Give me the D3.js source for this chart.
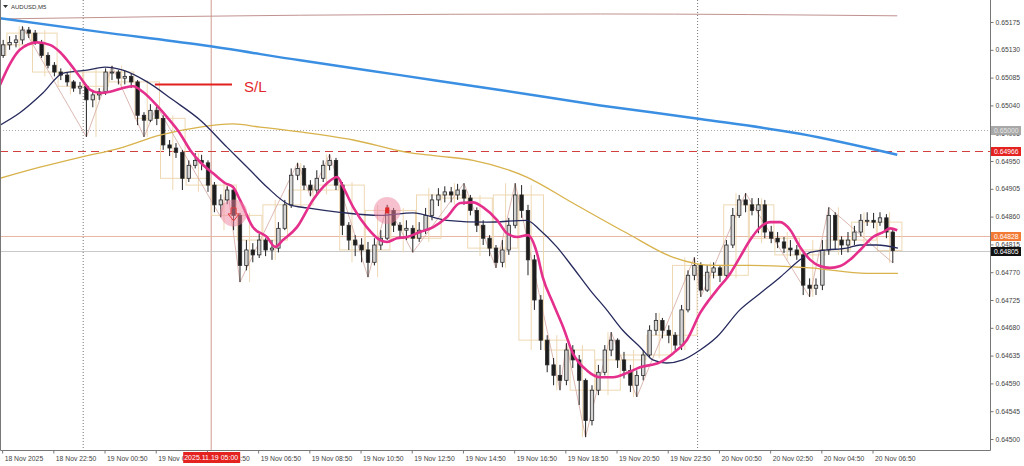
<!DOCTYPE html>
<html>
<head>
<meta charset="utf-8">
<script src="https://cdn.jsdelivr.net/npm/d3@7"></script>
<style>
  body { margin: 0; background: #fff; }
  svg { display: block; font-family: "Liberation Sans", Arial, sans-serif; }
</style>
</head>
<body>
<div id="chart"></div>
<script>
// AUDUSD M5, shown here as 15 minute candles starting 18 Nov 2025 20:45
const firstOpen = 0.65121;
const closes = [
  0.65138, 0.65142, 0.65146, 0.65162, 0.65157, 0.65142, 0.65121, 0.65105, 0.65094, 0.65089,
  0.65078, 0.65068, 0.65071, 0.65049, 0.65057, 0.65062, 0.65094, 0.65094, 0.65084, 0.65087,
  0.65078, 0.65024, 0.65016, 0.65032, 0.65019, 0.64976, 0.64971, 0.64964, 0.64922, 0.64943,
  0.64951, 0.64947, 0.64911, 0.64879, 0.64887, 0.64903, 0.64862, 0.64781, 0.64806, 0.64798,
  0.64822, 0.64806, 0.64809, 0.64841, 0.64879, 0.64927, 0.64938, 0.64911, 0.64903, 0.64922,
  0.64943, 0.64951, 0.64911, 0.64846, 0.64822, 0.64814, 0.64806, 0.64786, 0.64814, 0.64825,
  0.64870, 0.64846, 0.64838, 0.64841, 0.64825, 0.64838, 0.64862, 0.64887, 0.64895, 0.64900,
  0.64895, 0.64903, 0.64890, 0.64870, 0.64846, 0.64825, 0.64809, 0.64786, 0.64806, 0.64846,
  0.64895, 0.64870, 0.64790, 0.64725, 0.64660, 0.64620, 0.64603, 0.64595, 0.64644, 0.64628,
  0.64595, 0.64530, 0.64579, 0.64608, 0.64644, 0.64660, 0.64628, 0.64611, 0.64587, 0.64603,
  0.64636, 0.64676, 0.64692, 0.64676, 0.64668, 0.64652, 0.64709, 0.64765, 0.64781, 0.64741,
  0.64770, 0.64777, 0.64765, 0.64814, 0.64862, 0.64887, 0.64879, 0.64870, 0.64879, 0.64835,
  0.64825, 0.64819, 0.64809, 0.64806, 0.64798, 0.64749, 0.64744, 0.64749, 0.64806, 0.64862,
  0.64822, 0.64814, 0.64822, 0.64835, 0.64854, 0.64854, 0.64851, 0.64858, 0.64835, 0.64805
];
const highs = [
  0.65146, 0.65152, 0.65154, 0.65168, 0.65167, 0.65162, 0.65146, 0.65126, 0.65110, 0.65100,
  0.65094, 0.65081, 0.65078, 0.65074, 0.65065, 0.65068, 0.65100, 0.65104, 0.65097, 0.65097,
  0.65091, 0.65081, 0.65029, 0.65042, 0.65039, 0.65024, 0.64984, 0.64979, 0.64968, 0.64951,
  0.64963, 0.64960, 0.64951, 0.64916, 0.64896, 0.64909, 0.64906, 0.64866, 0.64822, 0.64817,
  0.64832, 0.64825, 0.64822, 0.64851, 0.64887, 0.64938, 0.64947, 0.64943, 0.64919, 0.64935,
  0.64951, 0.64961, 0.64955, 0.64916, 0.64851, 0.64830, 0.64825, 0.64819, 0.64825, 0.64838,
  0.64879, 0.64874, 0.64851, 0.64854, 0.64846, 0.64851, 0.64874, 0.64896, 0.64906, 0.64909,
  0.64908, 0.64913, 0.64914, 0.64895, 0.64875, 0.64854, 0.64830, 0.64814, 0.64822, 0.64858,
  0.64914, 0.64911, 0.64879, 0.64798, 0.64733, 0.64668, 0.64631, 0.64620, 0.64655, 0.64652,
  0.64636, 0.64598, 0.64587, 0.64620, 0.64652, 0.64673, 0.64663, 0.64641, 0.64620, 0.64611,
  0.64644, 0.64684, 0.64704, 0.64696, 0.64684, 0.64673, 0.64717, 0.64773, 0.64794, 0.64786,
  0.64781, 0.64786, 0.64781, 0.64822, 0.64874, 0.64895, 0.64898, 0.64890, 0.64890, 0.64887,
  0.64845, 0.64835, 0.64827, 0.64822, 0.64814, 0.64802, 0.64760, 0.64760, 0.64822, 0.64875,
  0.64867, 0.64828, 0.64835, 0.64845, 0.64864, 0.64867, 0.64866, 0.64867, 0.64864, 0.64841
];
const lows = [
  0.65117, 0.65130, 0.65134, 0.65139, 0.65149, 0.65138, 0.65117, 0.65100, 0.65087, 0.65081,
  0.65071, 0.65062, 0.65058, 0.64989, 0.65037, 0.65049, 0.65057, 0.65081, 0.65074, 0.65074,
  0.65068, 0.65008, 0.64989, 0.65013, 0.65008, 0.64968, 0.64958, 0.64955, 0.64903, 0.64916,
  0.64938, 0.64935, 0.64900, 0.64867, 0.64859, 0.64880, 0.64838, 0.64754, 0.64773, 0.64786,
  0.64793, 0.64796, 0.64790, 0.64802, 0.64838, 0.64874, 0.64919, 0.64903, 0.64893, 0.64896,
  0.64916, 0.64935, 0.64903, 0.64830, 0.64806, 0.64796, 0.64786, 0.64762, 0.64781, 0.64806,
  0.64822, 0.64835, 0.64825, 0.64822, 0.64802, 0.64819, 0.64832, 0.64854, 0.64877, 0.64883,
  0.64883, 0.64887, 0.64879, 0.64862, 0.64835, 0.64814, 0.64796, 0.64777, 0.64778, 0.64798,
  0.64841, 0.64858, 0.64765, 0.64709, 0.64644, 0.64608, 0.64587, 0.64579, 0.64587, 0.64615,
  0.64555, 0.64503, 0.64522, 0.64571, 0.64603, 0.64634, 0.64615, 0.64598, 0.64576, 0.64568,
  0.64595, 0.64631, 0.64668, 0.64663, 0.64655, 0.64644, 0.64644, 0.64705, 0.64757, 0.64730,
  0.64738, 0.64760, 0.64754, 0.64760, 0.64809, 0.64858, 0.64867, 0.64862, 0.64833, 0.64825,
  0.64817, 0.64809, 0.64801, 0.64796, 0.64790, 0.64733, 0.64730, 0.64733, 0.64741, 0.64798,
  0.64806, 0.64798, 0.64802, 0.64814, 0.64828, 0.64845, 0.64841, 0.64845, 0.64825, 0.64785
];

// moving averages: [candle index, price]
const maFast = [[-0.5,0.65073],[1.1,0.65108],[2.6,0.65130],[5.3,0.65142],[7.3,0.65138],[8.9,0.65126],[10.4,0.65108],[12,0.65086],[13.6,0.65065],[15.1,0.65060],[16.7,0.65062],[18.7,0.65068],[20.3,0.65071],[21.8,0.65062],[24,0.65040],[25.6,0.65021],[27.6,0.64995],[29.2,0.64968],[30.8,0.64948],[32.8,0.64930],[34.7,0.64914],[35.9,0.64908],[37,0.64887],[39,0.64843],[41.2,0.64827],[42.5,0.64811],[43.7,0.64822],[45.9,0.64843],[48.4,0.64887],[50.6,0.64914],[52.2,0.64924],[53.1,0.64908],[54.7,0.64875],[56.8,0.64843],[58.9,0.64822],[60,0.64819],[61.5,0.64825],[63.1,0.64827],[65.1,0.64835],[67.2,0.64843],[69.3,0.64859],[71.4,0.64882],[73.4,0.64883],[75,0.64875],[77.2,0.64854],[78.7,0.64833],[80.3,0.64827],[82,0.64830],[83.4,0.64801],[84.3,0.64762],[85.9,0.64720],[87.5,0.64681],[89,0.64639],[91.2,0.64611],[93.3,0.64600],[95.3,0.64600],[97.5,0.64607],[99.5,0.64616],[102.6,0.64624],[104.7,0.64639],[106.8,0.64660],[108.9,0.64704],[111.5,0.64741],[113.6,0.64768],[115.1,0.64794],[116.7,0.64822],[118.3,0.64843],[119.8,0.64851],[121.4,0.64851],[123,0.64838],[124.5,0.64811],[126.1,0.64790],[127.6,0.64780],[129.2,0.64777],[130.8,0.64780],[132.3,0.64790],[133.9,0.64806],[135.9,0.64827],[137.5,0.64835],[138.6,0.64841],[139.7,0.64838]];
const maMid = [[-0.5,0.65008],[2.6,0.65028],[6.2,0.65060],[9.3,0.65092],[13.1,0.65097],[15.9,0.65102],[18.7,0.65097],[22.5,0.65078],[26.5,0.65049],[30.8,0.65016],[35,0.64972],[38.6,0.64935],[41.2,0.64908],[44.8,0.64879],[47.5,0.64874],[52.6,0.64867],[58.9,0.64862],[64,0.64866],[69.3,0.64854],[75.6,0.64851],[81.8,0.64854],[83.9,0.64838],[86.5,0.64811],[89,0.64778],[91.7,0.64741],[94.3,0.64709],[96.8,0.64676],[99.5,0.64649],[101.5,0.64628],[103.7,0.64623],[106.2,0.64628],[108.9,0.64644],[111.5,0.64665],[115.1,0.64709],[118.3,0.64736],[121.4,0.64762],[124.5,0.64790],[126.1,0.64802],[128.7,0.64806],[131.8,0.64809],[133.9,0.64814],[136.5,0.64814],[139.8,0.64809]];
const maSlow = [[-0.5,0.64922],[5.75,0.64940],[12,0.64956],[18.25,0.64971],[24.5,0.64992],[30.75,0.65005],[35.9,0.65010],[40.1,0.65005],[46.4,0.64997],[54.7,0.64984],[63.1,0.64964],[68,0.64958],[73.4,0.64951],[81.8,0.64924],[89,0.64882],[97.5,0.64833],[104.7,0.64794],[110.9,0.64781],[116.7,0.64781],[126.1,0.64777],[135,0.64768],[139.8,0.64768]];
const maBlue = [[-0.5,0.65181],[15.1,0.65159],[30.75,0.65138],[46.4,0.65113],[62,0.65089],[77.6,0.65065],[93.3,0.65040],[108.9,0.65018],[124.5,0.64994],[139.7,0.64960]];
const maLong = [[-0.5,0.65180],[46.4,0.65186],[93.3,0.65188],[139.7,0.65185]];

// zigzag pivots [candle index, price]
const zigzag = [[3,0.65168],[13,0.64989],[17,0.65104],[22,0.64989],[24,0.65039],[34,0.64859],[35,0.64909],[37,0.64754],[46,0.64947],[48,0.64893],[51,0.64961],[57,0.64762],[60,0.64879],[64,0.64802],[72,0.64914],[77,0.64777],[80,0.64914],[87,0.64579],[88,0.64655],[91,0.64503],[95,0.64673],[99,0.64568],[108,0.64794],[109,0.64730],[116,0.64898],[126,0.64730],[129,0.64875],[139,0.64785]];

const signals = [[36, 0.64866], [60, 0.64870]];
const slPrice = 0.65074, slFrom = 23.7, slTo = 35.75;

const levelPrices = [0.65000, 0.64966, 0.64828, 0.64805];
const levelKinds = ["alert", "stop", "cross", "bid"];

const yTicks = [0.64500, 0.64545, 0.64590, 0.64635, 0.64680, 0.64725, 0.64770, 0.64815,
  0.64860, 0.64905, 0.64950, 0.64995, 0.65040, 0.65085, 0.65130, 0.65175];
const xTickTimes = ["2025-11-18 20:50", "2025-11-18 22:50", "2025-11-19 00:50", "2025-11-19 02:50",
  "2025-11-19 04:50", "2025-11-19 06:50", "2025-11-19 08:50", "2025-11-19 10:50", "2025-11-19 12:50",
  "2025-11-19 14:50", "2025-11-19 16:50", "2025-11-19 18:50", "2025-11-19 20:50", "2025-11-19 22:50",
  "2025-11-20 00:50", "2025-11-20 02:50", "2025-11-20 04:50", "2025-11-20 06:50"];
const xTickLabels = ["18 Nov 2025", "18 Nov 22:50", "19 Nov 00:50", "19 Nov 02:50", "19 Nov 04:50",
  "19 Nov 06:50", "19 Nov 08:50", "19 Nov 10:50", "19 Nov 12:50", "19 Nov 14:50", "19 Nov 16:50",
  "19 Nov 18:50", "19 Nov 20:50", "19 Nov 22:50", "20 Nov 00:50", "20 Nov 02:50", "20 Nov 04:50",
  "20 Nov 06:50"];
const daySeparators = ["2025-11-19 00:00", "2025-11-20 00:00"];
const crossTime = "2025-11-19 05:00";

const width = 1024, height = 466;
const plotR = 990, plotB = 450;
const MIN = 60000;
const parse = d3.timeParse("%Y-%m-%d %H:%M");
const t0 = parse("2025-11-18 20:45");

const x = d3.scaleTime()
  .domain([t0, new Date(+t0 + 38.672 * 60 * MIN)])
  .range([0, plotR]);
const y = d3.scaleLinear().domain([0.645, 0.65175]).range([439, 22]);
const tOf = i => new Date(+t0 + (i * 15 + 7.5) * MIN);

const candles = closes.map((c, i) => {
  const o = i === 0 ? firstOpen : closes[i - 1];
  return { i, o, c, h: Math.max(highs[i], o, c), l: Math.min(lows[i], o, c) };
});

const svg = d3.select("#chart").append("svg")
  .attr("width", width).attr("height", height);
svg.append("rect").attr("width", width).attr("height", height).attr("fill", "#fff");

svg.append("clipPath").attr("id", "plot")
  .append("rect").attr("width", plotR).attr("height", plotB);
const g = svg.append("g").attr("clip-path", "url(#plot)");

// day separators and crosshair
g.selectAll(".day").data(daySeparators).enter().append("line")
  .attr("x1", d => x(parse(d))).attr("x2", d => x(parse(d)))
  .attr("y1", 0).attr("y2", plotB)
  .attr("stroke", "#777").attr("stroke-dasharray", "1,2");
g.append("line")
  .attr("x1", x(parse(crossTime))).attr("x2", x(parse(crossTime)))
  .attr("y1", 0).attr("y2", plotB)
  .attr("stroke", "#d49a92").attr("stroke-width", 1);

// horizontal levels
const levelStyle = {
  alert: { stroke: "#aaa", dash: "1,2" },
  stop: { stroke: "#d0403c", dash: "8,5" },
  cross: { stroke: "#e8b8a4", dash: null },
  bid: { stroke: "#c8c8c8", dash: null }
};
g.selectAll(".lvl").data(levelPrices).enter().append("line")
  .attr("x1", 0).attr("x2", plotR)
  .attr("y1", d => Math.round(y(d)) + 0.5).attr("y2", d => Math.round(y(d)) + 0.5)
  .attr("stroke", (d, i) => levelStyle[levelKinds[i]].stroke)
  .attr("stroke-dasharray", (d, i) => levelStyle[levelKinds[i]].dash);

// hourly boxes built from the candles
const hours = [];
for (let s = -3; s < candles.length; s += 4) {
  const part = candles.slice(Math.max(0, s), s + 4);
  if (!part.length) continue;
  hours.push({
    s, o: part[0].o, c: part[part.length - 1].c,
    h: d3.max(part, d => d.h), l: d3.min(part, d => d.l)
  });
}
const boxCol = "#eed8b2";
g.selectAll(".hw").data(hours).enter().append("line")
  .attr("x1", d => x(tOf(d.s + 1.5))).attr("x2", d => x(tOf(d.s + 1.5)))
  .attr("y1", d => y(d.h)).attr("y2", d => y(d.l))
  .attr("stroke", boxCol);
g.selectAll(".hb").data(hours).enter().append("rect")
  .attr("x", d => x(tOf(d.s - 0.5)) + 0.5)
  .attr("width", d => x(tOf(d.s + 3.5)) - x(tOf(d.s - 0.5)) - 1)
  .attr("y", d => y(Math.max(d.o, d.c)))
  .attr("height", d => Math.max(1, Math.abs(y(d.o) - y(d.c))))
  .attr("fill", "none").attr("stroke", boxCol);

// zigzag
g.append("path").datum(zigzag)
  .attr("d", d3.line().x(d => x(tOf(d[0]))).y(d => y(d[1])))
  .attr("fill", "none").attr("stroke", "#d8b0a8").attr("stroke-width", 0.9);

// candles
const bw = 3.4;
g.selectAll(".wick").data(candles).enter().append("line")
  .attr("x1", d => x(tOf(d.i))).attr("x2", d => x(tOf(d.i)))
  .attr("y1", d => y(d.h)).attr("y2", d => y(d.l))
  .attr("stroke", "#222").attr("stroke-width", 1);
g.selectAll(".body").data(candles).enter().append("rect")
  .attr("x", d => x(tOf(d.i)) - bw / 2)
  .attr("width", bw)
  .attr("y", d => y(Math.max(d.o, d.c)))
  .attr("height", d => Math.max(1, Math.abs(y(d.o) - y(d.c))))
  .attr("fill", d => d.c >= d.o ? "#d4d4d4" : "#1c1c1c")
  .attr("stroke", "#2a2a2a").attr("stroke-width", 0.8);

// moving averages
const maLine = d3.line().x(d => x(tOf(d[0]))).y(d => y(d[1])).curve(d3.curveMonotoneX);
[
  [maLong, "#c0928f", 1],
  [maSlow, "#d8b24c", 1.3],
  [maBlue, "#3b8fe2", 2.5],
  [maMid, "#262a5c", 1.3],
  [maFast, "#e4308c", 2.6]
].forEach(([data, col, w]) => {
  g.append("path").datum(data).attr("d", maLine)
    .attr("fill", "none").attr("stroke", col).attr("stroke-width", w);
});

// signal circles
g.selectAll(".sig").data(signals).enter().append("circle")
  .attr("cx", d => x(tOf(d[0]))).attr("cy", d => y(d[1]))
  .attr("r", 13.5).attr("fill", "rgba(240,130,160,0.5)");
const s0 = signals[0];
g.append("path")
  .attr("transform", `translate(${x(tOf(s0[0]))},${y(s0[1]) + 2})`)
  .attr("d", "M-2.5,-7h5v6h3l-5.5,7l-5.5,-7h3z")
  .attr("fill", "none").attr("stroke", "#e03a3a").attr("stroke-width", 1);
const s1 = signals[1];
g.append("rect")
  .attr("x", x(tOf(s1[0])) - 2).attr("y", y(s1[1]) - 3)
  .attr("width", 4).attr("height", 6).attr("fill", "#e02828");

// S/L marker
g.append("line")
  .attr("x1", x(tOf(slFrom))).attr("x2", x(tOf(slTo)))
  .attr("y1", y(slPrice)).attr("y2", y(slPrice))
  .attr("stroke", "#e3201f").attr("stroke-width", 2);
svg.append("text")
  .attr("x", x(tOf(slTo)) + 12).attr("y", y(slPrice) + 8)
  .attr("font-size", "15px").attr("fill", "#e3262a").text("S/L");

// frame
svg.append("path")
  .attr("d", `M0.5,0V${plotB + 0.5}H${plotR + 0.5}V0`)
  .attr("fill", "none").attr("stroke", "#777");

// price axis
const yAxis = svg.append("g").attr("transform", `translate(${plotR + 0.5},0)`)
  .call(d3.axisRight(y).tickValues(yTicks).tickFormat(d3.format(".5f")).tickSize(3).tickPadding(2));
yAxis.select(".domain").remove();
yAxis.selectAll("line").attr("stroke", "#777");
yAxis.selectAll("text").attr("font-size", "6.8px").attr("fill", "#444")
  .attr("font-family", '"Liberation Sans", Arial, sans-serif');

// time axis
const xAxis = svg.append("g").attr("transform", `translate(0,${plotB + 0.5})`)
  .call(d3.axisBottom(x).tickValues(xTickTimes.map(parse))
    .tickFormat((d, i) => xTickLabels[i]).tickSize(3).tickPadding(3));
xAxis.select(".domain").remove();
xAxis.selectAll("line").attr("stroke", "#777");
xAxis.selectAll("text").attr("font-size", "6.8px").attr("fill", "#444")
  .attr("text-anchor", "start").attr("dx", 2)
  .attr("font-family", '"Liberation Sans", Arial, sans-serif');

// price labels on the axis
const labelBg = { alert: "#a8a8a8", stop: "#e4221f", cross: "#f27a34", bid: "#111" };
const labelFg = { alert: "#e6e6e6", stop: "#fff", cross: "#fff", bid: "#fff" };
const lab = svg.selectAll(".plab").data(levelPrices).enter().append("g")
  .attr("transform", d => `translate(${plotR + 1},${Math.round(y(d)) - 4})`);
lab.append("rect").attr("width", 30).attr("height", 9)
  .attr("fill", (d, i) => labelBg[levelKinds[i]]);
lab.append("text").attr("x", 3).attr("y", 7)
  .attr("font-size", "6.8px").attr("fill", (d, i) => labelFg[levelKinds[i]])
  .text(d => d3.format(".5f")(d));

// crosshair time label
const cx = x(parse(crossTime));
svg.append("rect").attr("x", cx - 28).attr("y", plotB + 2).attr("width", 57).attr("height", 11)
  .attr("fill", "#e4221f");
svg.append("text").attr("x", cx).attr("y", plotB + 10).attr("text-anchor", "middle")
  .attr("font-size", "7px").attr("fill", "#fff")
  .text(d3.timeFormat("%Y.%m.%d %H:%M")(parse(crossTime)));

// symbol title
svg.append("path").attr("d", "M3,5h5l-2.5,3z").attr("fill", "#333");
svg.append("text").attr("x", 11).attr("y", 9)
  .attr("font-size", "6px").attr("fill", "#333").text("AUDUSD,M5");
</script>
</body>
</html>
